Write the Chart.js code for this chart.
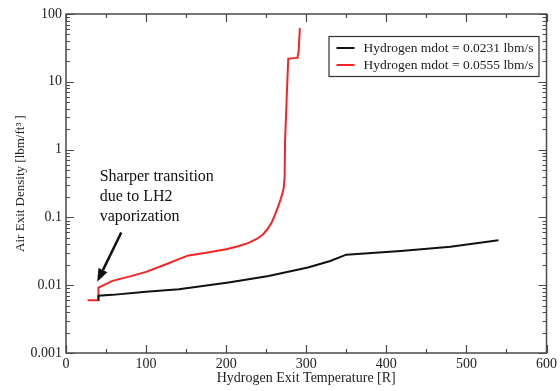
<!DOCTYPE html>
<html>
<head>
<meta charset="utf-8">
<script src="https://cdn.jsdelivr.net/npm/chart.js@4/dist/chart.umd.min.js"></script>
<style>
  html, body { margin: 0; padding: 0; background: #fff; }
</style>
</head>
<body>
<canvas id="chart" width="560" height="391"></canvas>
<script>
// series: air exit density vs hydrogen exit temperature
const seriesLabels = ['Hydrogen mdot = 0.0231 lbm/s', 'Hydrogen mdot = 0.0555 lbm/s'];
const seriesColors = ['#111111', '#f42424'];

const lowFlowTemp    = [40, 40.5, 58, 100, 141, 203, 253, 302, 330, 350, 418, 480, 540];
const lowFlowDensity = [0.0061, 0.0070, 0.0072, 0.0080, 0.0087, 0.0110, 0.0137, 0.0182, 0.0228, 0.0282, 0.0320, 0.0368, 0.0460];

const highFlowTemp    = [27, 40, 40.5, 58, 80, 100, 125, 140, 153, 175, 200, 215, 228, 238, 246, 252, 257, 261, 265, 268, 270.5, 272, 273, 273.5, 275.5, 277.5, 289, 290.5, 292];
const highFlowDensity = [0.0060, 0.0060, 0.0092, 0.0116, 0.0135, 0.0157, 0.0204, 0.0240, 0.0275, 0.0300, 0.0340, 0.0375, 0.0420, 0.0480, 0.0560, 0.0680, 0.0850, 0.110, 0.145, 0.185, 0.230, 0.280, 0.40, 1.3, 5.5, 22, 22.5, 28, 62];

const xTicks = [0, 100, 200, 300, 400, 500, 600];
const yTicks = [0.001, 0.01, 0.1, 1, 10, 100];
const yTickLabels = ['0.001', '0.01', '0.1', '1', '10', '100'];

const noteLines = ['Sharper transition', 'due to LH2', 'vaporization'];
const noteAt = [42, 0.35];
const arrowFrom = [69, 0.06];
const arrowTo = [39, 0.0112];

const serif = '"Liberation Serif", "DejaVu Serif", serif';
const axisColor = '#4a4a4a';

function toPoints(xs, ys) {
  return xs.map((x, i) => ({ x: x, y: ys[i] }));
}

// box around the plot with inward tick marks on all four sides
const framePlugin = {
  id: 'frame',
  afterDatasetsDraw(chart) {
    const { ctx, chartArea: a, scales } = chart;
    const xs = scales.x, ys = scales.y;
    ctx.save();
    ctx.strokeStyle = axisColor;
    ctx.lineWidth = 1.5;
    ctx.strokeRect(a.left, a.top, a.right - a.left, a.bottom - a.top);
    ctx.lineWidth = 1.2;
    ctx.beginPath();
    for (let v = 0; v <= 600; v += 50) {
      const px = Math.round(xs.getPixelForValue(v)) + 0.5;
      const len = v % 100 === 0 ? 8 : 4;
      ctx.moveTo(px, a.bottom); ctx.lineTo(px, a.bottom - len);
      ctx.moveTo(px, a.top); ctx.lineTo(px, a.top + len);
    }
    for (let e = -3; e <= 2; e++) {
      for (let m = 1; m <= 9; m++) {
        if (e === 2 && m > 1) break;
        const v = m * Math.pow(10, e);
        const py = Math.round(ys.getPixelForValue(v)) + 0.5;
        const len = m === 1 ? 8 : 4;
        ctx.moveTo(a.left, py); ctx.lineTo(a.left + len, py);
        ctx.moveTo(a.right, py); ctx.lineTo(a.right - len, py);
      }
    }
    ctx.stroke();
    ctx.restore();
  }
};

// text note with an arrow pointing at the jump near 40 R
const notePlugin = {
  id: 'note',
  afterDatasetsDraw(chart) {
    const { ctx, scales } = chart;
    const xs = scales.x, ys = scales.y;
    ctx.save();
    ctx.fillStyle = '#111';
    ctx.font = '16px ' + serif;
    ctx.textBaseline = 'alphabetic';
    const tx = xs.getPixelForValue(noteAt[0]);
    const ty = ys.getPixelForValue(noteAt[1]);
    noteLines.forEach((line, i) => ctx.fillText(line, tx, ty + i * 20));

    const x0 = xs.getPixelForValue(arrowFrom[0]), y0 = ys.getPixelForValue(arrowFrom[1]);
    const x1 = xs.getPixelForValue(arrowTo[0]), y1 = ys.getPixelForValue(arrowTo[1]);
    const ang = Math.atan2(y1 - y0, x1 - x0);
    const head = 13, half = 5;
    const bx = x1 - head * Math.cos(ang), by = y1 - head * Math.sin(ang);
    ctx.strokeStyle = '#111';
    ctx.lineWidth = 2.5;
    ctx.beginPath();
    ctx.moveTo(x0, y0);
    ctx.lineTo(bx, by);
    ctx.stroke();
    ctx.beginPath();
    ctx.moveTo(x1, y1);
    ctx.lineTo(bx + half * Math.sin(ang), by - half * Math.cos(ang));
    ctx.lineTo(bx - half * Math.sin(ang), by + half * Math.cos(ang));
    ctx.closePath();
    ctx.fill();
    ctx.restore();
  }
};

// boxed legend in the upper right of the plot
const legendPlugin = {
  id: 'boxLegend',
  afterDraw(chart) {
    const { ctx, chartArea: a } = chart;
    const w = 210, h = 40;
    const left = a.right - 8 - w, top = a.top + 22;
    ctx.save();
    ctx.fillStyle = '#fff';
    ctx.fillRect(left, top, w, h);
    ctx.strokeStyle = '#333';
    ctx.lineWidth = 1.2;
    ctx.strokeRect(left + 0.5, top + 0.5, w, h);
    ctx.font = '13.5px ' + serif;
    ctx.textBaseline = 'middle';
    chart.data.datasets.forEach((ds, i) => {
      const cy = top + 12 + i * 17;
      ctx.strokeStyle = ds.borderColor;
      ctx.lineWidth = 2;
      ctx.beginPath();
      ctx.moveTo(left + 8, cy);
      ctx.lineTo(left + 26, cy);
      ctx.stroke();
      ctx.fillStyle = '#222';
      ctx.fillText(ds.label, left + 35, cy);
    });
    ctx.restore();
  }
};

new Chart(document.getElementById('chart'), {
  type: 'line',
  data: {
    datasets: [
      {
        label: seriesLabels[0],
        data: toPoints(lowFlowTemp, lowFlowDensity),
        borderColor: seriesColors[0],
        borderWidth: 2,
        pointRadius: 0,
        tension: 0
      },
      {
        label: seriesLabels[1],
        data: toPoints(highFlowTemp, highFlowDensity),
        borderColor: seriesColors[1],
        borderWidth: 2,
        pointRadius: 0,
        tension: 0
      }
    ]
  },
  options: {
    responsive: false,
    animation: false,
    devicePixelRatio: 1,
    layout: { padding: { left: 0, top: 14, right: 10, bottom: 0 } },
    plugins: {
      legend: { display: false },
      tooltip: { enabled: false }
    },
    scales: {
      x: {
        type: 'linear',
        min: 0,
        max: 600,
        afterBuildTicks: s => { s.ticks = xTicks.map(v => ({ value: v })); },
        afterFit: s => { s.height = 38; },
        grid: { display: false, drawTicks: false },
        border: { display: false },
        ticks: { color: '#222', padding: 3, font: { family: serif, size: 14 }, maxRotation: 0 },
        title: {
          display: true,
          text: 'Hydrogen Exit Temperature [R]',
          color: '#222',
          font: { family: serif, size: 14 },
          padding: { top: 0, bottom: 4 }
        }
      },
      y: {
        type: 'logarithmic',
        min: 0.001,
        max: 100,
        afterBuildTicks: s => { s.ticks = yTicks.map(v => ({ value: v })); },
        afterFit: s => { s.width = 66; },
        grid: { display: false, drawTicks: false },
        border: { display: false },
        ticks: {
          color: '#222',
          padding: 4,
          font: { family: serif, size: 14 },
          callback: v => yTickLabels[yTicks.indexOf(v)]
        },
        title: {
          display: true,
          text: 'Air Exit Density [lbm/ft\u00b3 ]',
          color: '#222',
          font: { family: serif, size: 13 },
          padding: { top: 13, bottom: 0 }
        }
      }
    }
  },
  plugins: [framePlugin, notePlugin, legendPlugin]
});
</script>
</body>
</html>
